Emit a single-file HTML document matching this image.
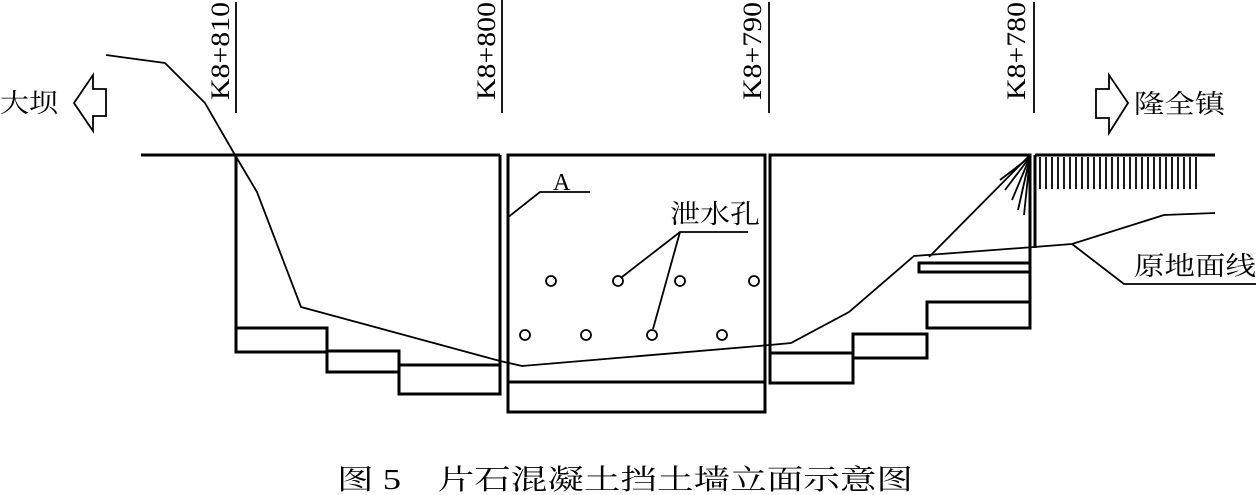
<!DOCTYPE html>
<html><head><meta charset="utf-8"><style>
html,body{margin:0;padding:0;background:#fff;}
svg{display:block;}
text{font-family:"Liberation Serif","Noto Serif CJK SC","Noto Sans CJK SC",serif;fill:#000;}
</style></head><body>
<svg width="1256" height="495" viewBox="0 0 1256 495" xmlns="http://www.w3.org/2000/svg">
<g fill="none" stroke="#000" stroke-width="3">
<line x1="141" y1="155" x2="500" y2="155"/>
<polyline points="236,155 236,352"/>
<polyline points="500,155 500,394"/>
<rect x="236" y="328" width="91" height="24"/>
<rect x="327" y="351" width="72" height="21"/>
<rect x="399" y="365" width="101" height="29"/>
<rect x="508" y="155" width="257" height="257"/>
<line x1="508" y1="382" x2="765" y2="382"/>
<polyline points="770,383 770,155 1030,155 1030,325"/>
<line x1="1035" y1="155" x2="1035" y2="248"/>
<rect x="770" y="353" width="83" height="30"/>
<rect x="853" y="334" width="74" height="24"/>
<rect x="927" y="302" width="103" height="26"/>
<rect x="919" y="263" width="111" height="9"/>
<line x1="1035" y1="155" x2="1215" y2="155"/>
</g>
<g fill="none" stroke="#000" stroke-width="1.8">
<line x1="1030" y1="155" x2="929" y2="257"/>
<line x1="1030" y1="157" x2="1005" y2="190"/>
<line x1="1030" y1="157" x2="1012" y2="200"/>
<line x1="1030" y1="157" x2="1018" y2="210"/>
<line x1="1030" y1="157" x2="1024" y2="215"/>
<line x1="1030" y1="157" x2="1000" y2="180"/>
<path d="M1040 157v32M1046 157v32M1052 157v32M1058 157v32M1064 157v32M1070 157v32M1076 157v32M1082 157v32M1088 157v32M1094 157v32M1100 157v32M1106 157v32M1112 157v32M1118 157v32M1124 157v32M1130 157v32M1136 157v32M1142 157v32M1148 157v32M1154 157v32M1160 157v32M1166 157v32M1172 157v32M1178 157v32M1184 157v32M1190 157v32M1196 157v32"/>
<polyline points="106,55 165,63 205,103 235,155 257,192 301,307 500,361 522,366 770,345 791,343 849,312 914,256 1034,247 1072,244 1164,215 1215,213"/>
<polyline points="1072,244 1124,284 1256,284"/>
<line x1="236" y1="2" x2="236" y2="113"/>
<line x1="502" y1="0" x2="502" y2="113"/>
<line x1="769" y1="2" x2="769" y2="113"/>
<line x1="1034" y1="2" x2="1034" y2="113"/>
<polyline points="590,192 540,192 507,218"/>
<polyline points="748,232 680,232 622,277"/>
<line x1="680" y1="232" x2="653" y2="329"/>
<circle cx="551" cy="281" r="5"/><circle cx="618" cy="281" r="5"/><circle cx="680" cy="281" r="5"/><circle cx="754" cy="281" r="5"/>
<circle cx="525" cy="335" r="5"/><circle cx="586" cy="335" r="5"/><circle cx="652" cy="335" r="5"/><circle cx="722" cy="335" r="5"/>
<polygon points="74,103 93,75 93,89 106,89 106,116 93,116 93,131"/>
<polygon points="1128,103 1109,75 1109,89 1096,89 1096,118 1109,118 1109,133"/>
</g>
<g font-size="26">
<text x="0" y="112" textLength="58" lengthAdjust="spacingAndGlyphs">大坝</text>
<text x="1134" y="113" textLength="91" lengthAdjust="spacingAndGlyphs">隆全镇</text>
<text x="1134" y="275" textLength="122" lengthAdjust="spacingAndGlyphs">原地面线</text>
<text x="670" y="223" textLength="90" lengthAdjust="spacingAndGlyphs">泄水孔</text>
<text x="553" y="190" font-size="24">A</text>
<text transform="translate(229,100) rotate(-90)" textLength="98" lengthAdjust="spacingAndGlyphs">K8+810</text>
<text transform="translate(495,100) rotate(-90)" textLength="98" lengthAdjust="spacingAndGlyphs">K8+800</text>
<text transform="translate(761,100) rotate(-90)" textLength="98" lengthAdjust="spacingAndGlyphs">K8+790</text>
<text transform="translate(1025,100) rotate(-90)" textLength="98" lengthAdjust="spacingAndGlyphs">K8+780</text>
<text x="337" y="489" font-size="28" textLength="576" lengthAdjust="spacingAndGlyphs">图 5　片石混凝土挡土墙立面示意图</text>
</g>
</svg>
</body></html>
